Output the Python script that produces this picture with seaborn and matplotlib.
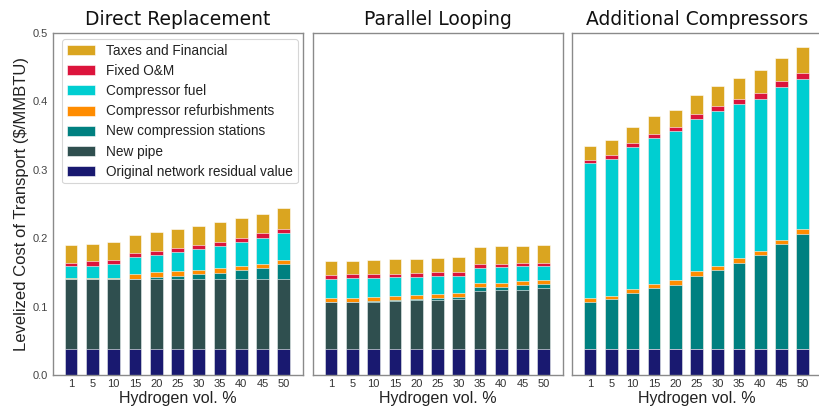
import matplotlib
matplotlib.use("Agg")
import matplotlib.pyplot as plt
from matplotlib.patches import Patch
import seaborn as sns
import pandas as pd

# Hydrogen blend levels (x categories)
pct = [1, 5, 10, 15, 20, 25, 30, 35, 40, 45, 50]

# Cost components, $/MMBTU, listed bottom to top in each stack
components = [
    "Original network residual value",
    "New pipe",
    "New compression stations",
    "Compressor refurbishments",
    "Compressor fuel",
    "Fixed O&M",
    "Taxes and Financial",
]
colors = {
    "Original network residual value": "#191970",
    "New pipe": "#2F4F4F",
    "New compression stations": "#008080",
    "Compressor refurbishments": "#FF8C00",
    "Compressor fuel": "#00CED1",
    "Fixed O&M": "#DC143C",
    "Taxes and Financial": "#DAA520",
}

# Direct Replacement
dr_residual = [0.038, 0.038, 0.038, 0.038, 0.038, 0.038, 0.038, 0.038, 0.038, 0.038, 0.038]
dr_pipe     = [0.103, 0.103, 0.103, 0.103, 0.103, 0.103, 0.103, 0.103, 0.103, 0.103, 0.103]
dr_stations = [0.000, 0.000, 0.000, 0.000, 0.002, 0.004, 0.006, 0.008, 0.013, 0.016, 0.021]
dr_refurb   = [0.001, 0.001, 0.001, 0.007, 0.007, 0.007, 0.007, 0.007, 0.006, 0.006, 0.006]
dr_fuel     = [0.017, 0.018, 0.020, 0.024, 0.026, 0.028, 0.030, 0.033, 0.035, 0.038, 0.039]
dr_om       = [0.005, 0.006, 0.006, 0.006, 0.006, 0.006, 0.006, 0.006, 0.006, 0.007, 0.007]
dr_taxes    = [0.026, 0.025, 0.026, 0.026, 0.027, 0.027, 0.028, 0.028, 0.028, 0.028, 0.030]

# Parallel Looping
pl_residual = [0.038, 0.038, 0.038, 0.038, 0.038, 0.038, 0.038, 0.038, 0.038, 0.038, 0.038]
pl_pipe     = [0.068, 0.068, 0.069, 0.070, 0.071, 0.072, 0.073, 0.085, 0.087, 0.087, 0.089]
pl_stations = [0.001, 0.001, 0.001, 0.002, 0.002, 0.003, 0.003, 0.005, 0.004, 0.006, 0.006]
pl_refurb   = [0.005, 0.006, 0.006, 0.006, 0.006, 0.006, 0.006, 0.006, 0.006, 0.006, 0.006]
pl_fuel     = [0.029, 0.029, 0.028, 0.027, 0.027, 0.026, 0.025, 0.023, 0.023, 0.022, 0.020]
pl_om       = [0.005, 0.005, 0.005, 0.005, 0.005, 0.005, 0.005, 0.005, 0.005, 0.005, 0.005]
pl_taxes    = [0.020, 0.020, 0.021, 0.021, 0.020, 0.021, 0.022, 0.025, 0.025, 0.025, 0.026]

# Additional Compressors
ac_residual = [0.038, 0.038, 0.038, 0.038, 0.038, 0.038, 0.038, 0.038, 0.038, 0.038, 0.038]
ac_pipe     = [0.000, 0.000, 0.000, 0.000, 0.000, 0.000, 0.000, 0.000, 0.000, 0.000, 0.000]
ac_stations = [0.068, 0.073, 0.082, 0.089, 0.094, 0.107, 0.116, 0.126, 0.137, 0.153, 0.168]
ac_refurb   = [0.006, 0.005, 0.006, 0.006, 0.007, 0.007, 0.006, 0.007, 0.007, 0.006, 0.007]
ac_fuel     = [0.198, 0.200, 0.208, 0.214, 0.217, 0.222, 0.226, 0.225, 0.222, 0.224, 0.220]
ac_om       = [0.005, 0.005, 0.005, 0.006, 0.006, 0.007, 0.007, 0.007, 0.009, 0.009, 0.009]
ac_taxes    = [0.020, 0.022, 0.023, 0.025, 0.026, 0.028, 0.029, 0.031, 0.033, 0.034, 0.038]

scenarios = {
    "Direct Replacement": [dr_residual, dr_pipe, dr_stations, dr_refurb, dr_fuel, dr_om, dr_taxes],
    "Parallel Looping": [pl_residual, pl_pipe, pl_stations, pl_refurb, pl_fuel, pl_om, pl_taxes],
    "Additional Compressors": [ac_residual, ac_pipe, ac_stations, ac_refurb, ac_fuel, ac_om, ac_taxes],
}

# Long table with running stack tops
rows = []
for scen, series in scenarios.items():
    for i, p in enumerate(pct):
        top = 0.0
        for comp, vals in zip(components, series):
            top += vals[i]
            rows.append({"scenario": scen, "pct": str(p), "component": comp,
                         "value": vals[i], "top": top})
df = pd.DataFrame(rows)

sns.set_theme(style="white")
plt.rcParams["font.family"] = ["Liberation Sans", "DejaVu Sans"]

fig = plt.figure(figsize=(8.19, 4.09), dpi=100)
W, H = 819.0, 409.0
lefts = [53, 313, 572]
axes = []
for k, lx in enumerate(lefts):
    ax = fig.add_axes([lx / W, 1 - 375 / H, 250 / W, 342 / H],
                      sharey=axes[0] if axes else None)
    axes.append(ax)

order = [str(p) for p in pct]
for ax, scen in zip(axes, scenarios):
    sub = df[df["scenario"] == scen]
    # draw the tallest cumulative stack first so each lower layer sits on top
    for comp in reversed(components):
        part = sub[sub["component"] == comp]
        sns.barplot(data=part, x="pct", y="top", order=order, color=colors[comp],
                    saturation=1, width=0.6, edgecolor="white", linewidth=0.4,
                    errorbar=None, ax=ax)
    ax.set_xlim(-0.85, 10.9)
    ax.set_ylim(0, 0.5)
    ax.set_yticks([0.0, 0.1, 0.2, 0.3, 0.4, 0.5])
    ax.set_title(scen, fontsize=13.5, family="DejaVu Sans", color="#111111", pad=6)
    ax.set_xlabel("Hydrogen vol. %", fontsize=11.5, color="#222222", labelpad=1)
    ax.set_ylabel("")
    ax.tick_params(axis="x", length=0, labelsize=8, colors="#333333", pad=3)
    ax.tick_params(axis="y", direction="in", length=3, width=0.8,
                   labelsize=8, colors="#555555", labelcolor="#444444")
    for s in ax.spines.values():
        s.set_color("#8a8a8a")
        s.set_linewidth(1.0)

axes[0].set_ylabel("Levelized Cost of Transport ($/MMBTU)", fontsize=12,
                   color="#222222", labelpad=3)
axes[0].set_yticklabels(["0.0", "0.1", "0.2", "0.3", "0.4", "0.5"])
for ax in axes[1:]:
    ax.tick_params(axis="y", labelleft=False)

handles = [Patch(facecolor=colors[c], edgecolor="white", linewidth=0.4, label=c)
           for c in reversed(components)]
leg = axes[0].legend(handles=handles, loc="upper left",
                     bbox_to_anchor=(0.036, 0.982), borderaxespad=0,
                     fontsize=9.8, handlelength=2.1, handleheight=0.75,
                     handletextpad=0.8, labelspacing=0.45, borderpad=0.35,
                     frameon=True, fancybox=True)
leg.get_frame().set_edgecolor("#cccccc")
leg.get_frame().set_linewidth(0.8)
for t in leg.get_texts():
    t.set_color("#222222")

fig.savefig("out.png", dpi=100)
